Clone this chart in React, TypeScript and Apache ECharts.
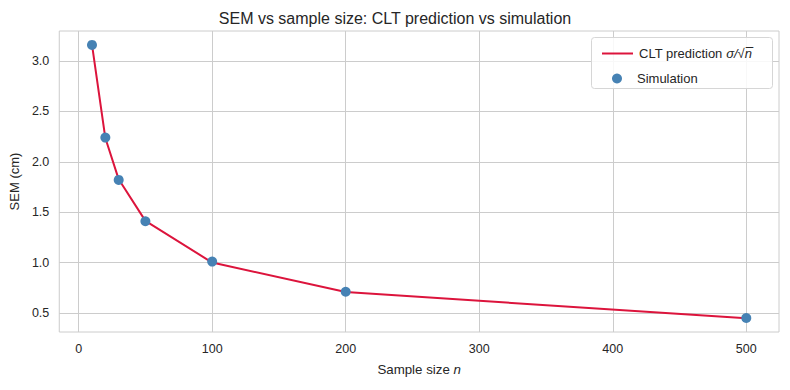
import React, { useEffect, useRef } from "react";
import * as echarts from "echarts";

const sampleSizes = [10, 20, 30, 50, 100, 200, 500];
const cltPrediction = [3.162, 2.236, 1.826, 1.414, 1.0, 0.707, 0.447];
const simulation = [3.16, 2.24, 1.82, 1.41, 1.01, 0.71, 0.45];
const xTicks = [0, 100, 200, 300, 400, 500];
const yTicks = [0.5, 1.0, 1.5, 2.0, 2.5, 3.0];

const FONT = "Liberation Sans, Arial, sans-serif";
const TXT = "#262626";
const GRID = "#cccccc";

export default function App() {
  const ref = useRef<HTMLDivElement>(null);
  useEffect(() => {
    if (!ref.current) return;
    const chart = echarts.init(ref.current, undefined, { renderer: "svg" });
    chart.setOption({
      animation: false,
      backgroundColor: "#ffffff",
      textStyle: { fontFamily: FONT, color: TXT },
      title: {
        text: "SEM vs sample size: CLT prediction vs simulation",
        left: "center",
        top: 5,
        textStyle: { fontFamily: FONT, fontSize: 16, fontWeight: "normal", color: TXT },
      },
      grid: { left: 59, right: 11, top: 31, bottom: 58, show: true, borderColor: GRID, borderWidth: 1 },
      xAxis: {
        type: "value",
        min: -14.5,
        max: 524.5,
        name: "Sample size {i|n}",
        nameLocation: "middle",
        nameGap: 31,
        nameTextStyle: {
          fontFamily: FONT,
          fontSize: 13.3,
          color: TXT,
          rich: { i: { fontStyle: "italic", fontFamily: FONT, fontSize: 13.3, color: TXT } },
        },
        axisLine: { show: false },
        axisTick: { show: false, customValues: xTicks },
        axisLabel: { customValues: xTicks, fontFamily: FONT, fontSize: 12.5, color: TXT, margin: 10 },
        splitLine: { show: true, lineStyle: { color: GRID, width: 1 } },
      },
      yAxis: {
        type: "value",
        min: 0.311,
        max: 3.298,
        name: "SEM (cm)",
        nameLocation: "middle",
        nameGap: 36,
        nameRotate: 90,
        nameTextStyle: { fontFamily: FONT, fontSize: 13, color: TXT },
        axisLine: { show: false },
        axisTick: { show: false, customValues: yTicks },
        axisLabel: {
          customValues: yTicks,
          fontFamily: FONT,
          fontSize: 12.5,
          color: TXT,
          margin: 10,
          formatter: (v: number) => v.toFixed(1),
        },
        splitLine: { show: true, lineStyle: { color: GRID, width: 1 } },
      },
      graphic: [
        {
          type: "rect",
          right: 17,
          top: 37,
          shape: { width: 181, height: 51, r: 3 },
          style: { fill: "rgba(255,255,255,0.85)", stroke: "#d6d6d6", lineWidth: 1 },
          z: 10,
        },
      ],
      legend: [
        {
          data: [{ name: "CLT prediction", icon: "rect" }],
          left: 597,
          top: 42,
          itemWidth: 31,
          itemHeight: 2,
          itemGap: 10,
          z: 20,
          formatter: () => "CLT prediction {i|σ/√n̅}",
          textStyle: {
            fontFamily: FONT,
            fontSize: 13,
            color: TXT,
            padding: [0, 0, 0, 1],
            rich: { i: { fontStyle: "italic", fontFamily: FONT, fontSize: 13, color: TXT } },
          },
        },
        {
          data: [{ name: "Simulation", icon: "circle" }],
          left: 607,
          top: 67,
          itemWidth: 10,
          itemHeight: 10,
          itemGap: 21,
          z: 20,
          textStyle: { fontFamily: FONT, fontSize: 13, color: TXT, padding: [0, 0, 0, 10] },
        },
      ],
      series: [
        {
          name: "CLT prediction",
          type: "line",
          data: sampleSizes.map((n, i) => [n, cltPrediction[i]]),
          showSymbol: false,
          symbol: "none",
          lineStyle: { color: "#dc143c", width: 2 },
          itemStyle: { color: "#dc143c" },
          z: 2,
        },
        {
          name: "Simulation",
          type: "scatter",
          data: sampleSizes.map((n, i) => [n, simulation[i]]),
          symbolSize: 10,
          itemStyle: { color: "#4682b4", opacity: 1 },
          z: 3,
        },
      ],
    });
    return () => chart.dispose();
  }, []);
  return <div ref={ref} style={{ width: 790, height: 390, position: "absolute", left: 0, top: 0 }} />;
}
